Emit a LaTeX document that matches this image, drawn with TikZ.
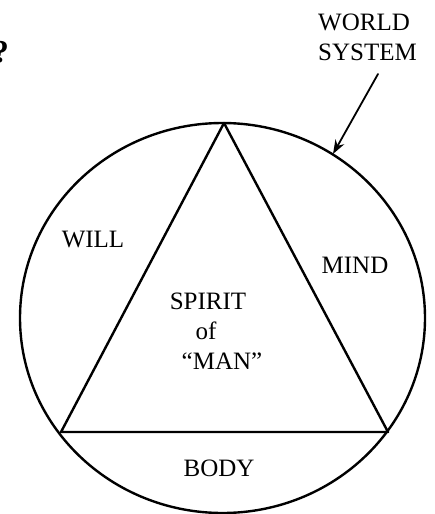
\documentclass[tikz,border=0pt]{standalone}
\usepackage{fontspec}
\setmainfont{Liberation Serif}
\usetikzlibrary{arrows.meta}
\tikzset{
  lbl/.style={inner sep=0pt,font=\fontsize{25}{30}\selectfont},
}
\begin{document}
\begin{tikzpicture}[>={Stealth[length=14pt,width=10pt]},line join=round,line cap=round,x=1pt,y=-1pt]
	\useasboundingbox (0,0) rectangle (435,514);
	% world system
	\draw[line width=2.4pt] (222.5,318) ellipse [x radius=202.5,y radius=195];
	% triangle of man
	\coordinate (top) at (224,123);
	\coordinate (bl) at (61,432);
	\coordinate (br) at (388,432);
	\draw[line width=2.4pt] (top) -- (bl) -- (br) -- cycle;
	\node[lbl,anchor=base,font=\fontsize{32}{32}\selectfont\bfseries] (q) at (1,62) {?};
	\node[lbl,anchor=base west,align=left] (world) at (318,60) {WORLD\\SYSTEM};
	\coordinate (hit) at (333,154);
	\draw[->,line width=1.8pt] (378,74) -- (hit);
	\node[lbl] (will) at (93,240) {WILL};
	\node[lbl] (mind) at (355,265) {MIND};
	\node[lbl,anchor=base] (spirit) at (208,309) {SPIRIT};
	\node[lbl,anchor=base] (of) at (206,339) {of};
	\node[lbl,anchor=base] (man) at (222,369) {``MAN''};
	\node[lbl] (body) at (219,468) {BODY};
\end{tikzpicture}
\end{document}
